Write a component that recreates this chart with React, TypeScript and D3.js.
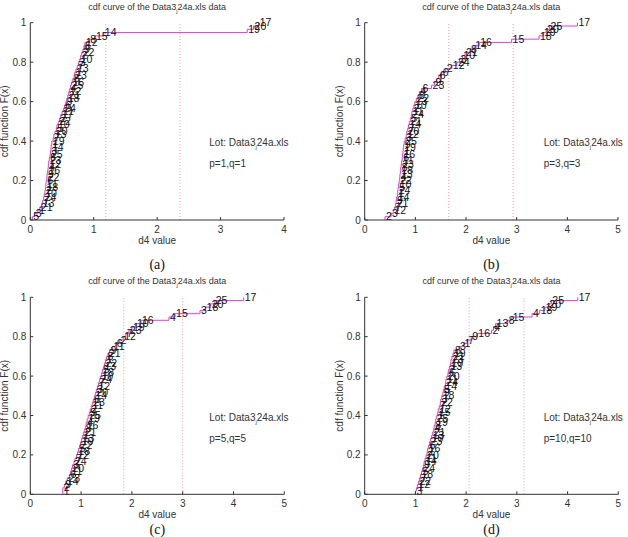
import React from "react";
import * as d3 from "d3";

// sorted d4 values per lot run, with the wafer number of each die
const aValues = [
  0.03, 0.07, 0.12, 0.15, 0.18, 0.195, 0.21, 0.22, 0.23, 0.24,
  0.245, 0.25, 0.26, 0.265, 0.27, 0.28, 0.285, 0.29, 0.3, 0.31,
  0.32, 0.325, 0.33, 0.34, 0.36, 0.37, 0.39, 0.41, 0.42, 0.44,
  0.46, 0.48, 0.5, 0.52, 0.54, 0.56, 0.575, 0.59, 0.605, 0.62,
  0.635, 0.65, 0.67, 0.69, 0.7, 0.72, 0.74, 0.76, 0.78, 0.79,
  0.81, 0.83, 0.845, 0.86, 0.93, 1.02, 1.16, 3.42, 3.52, 3.6,
];
const aLabels = [
  5, 3, 1, 21, 13, 7, 24, 10, 2, 18,
  11, 6, 22, 9, 16, 4, 12, 23, 8, 25,
  3, 14, 1, 19, 7, 13, 20, 5, 10, 22,
  2, 17, 11, 24, 6, 9, 18, 21, 12, 4,
  25, 16, 8, 23, 1, 13, 7, 3, 10, 2,
  22, 9, 6, 12, 8, 15, 14, 19, 20, 17,
];

const bValues = [
  0.4, 0.52, 0.565, 0.59, 0.61, 0.62, 0.63, 0.645, 0.65, 0.66,
  0.67, 0.68, 0.69, 0.695, 0.705, 0.71, 0.72, 0.73, 0.74, 0.745,
  0.755, 0.76, 0.77, 0.78, 0.8, 0.82, 0.83, 0.85, 0.865, 0.88,
  0.9, 0.92, 0.93, 0.95, 0.97, 0.99, 1.02, 1.05, 1.08, 1.12,
  1.32, 1.38, 1.42, 1.46, 1.52, 1.6, 1.72, 1.82, 1.87, 1.93,
  1.98, 2.08, 2.16, 2.26, 2.9, 3.44, 3.52, 3.58, 3.65, 4.2,
];
const bLabels = [
  2, 3, 12, 7, 21, 9, 14, 1, 24, 5,
  10, 22, 4, 13, 18, 8, 23, 11, 6, 16,
  1, 19, 9, 25, 3, 12, 20, 7, 14, 21,
  5, 24, 11, 2, 10, 13, 22, 8, 4, 6,
  23, 9, 1, 6, 6, 2, 12, 24, 3, 10,
  21, 8, 14, 16, 15, 18, 19, 20, 25, 17,
];

const cValues = [
  0.64, 0.64, 0.67, 0.7, 0.73, 0.77, 0.79, 0.81, 0.83, 0.86,
  0.88, 0.91, 0.93, 0.95, 0.97, 0.99, 1.01, 1.03, 1.05, 1.07,
  1.09, 1.1, 1.12, 1.14, 1.16, 1.18, 1.2, 1.22, 1.24, 1.26,
  1.28, 1.3, 1.32, 1.34, 1.36, 1.38, 1.4, 1.42, 1.44, 1.46,
  1.48, 1.5, 1.53, 1.56, 1.62, 1.68, 1.76, 1.83, 1.88, 1.94,
  2.0, 2.08, 2.18, 2.73, 2.85, 3.34, 3.45, 3.55, 3.63, 4.2,
];
const cLabels = [
  1, 2, 9, 14, 23, 6, 11, 20, 3, 24,
  7, 12, 18, 5, 22, 10, 13, 1, 21, 8,
  16, 4, 19, 25, 9, 2, 11, 23, 6, 14,
  20, 3, 12, 7, 24, 10, 18, 5, 13, 22,
  1, 8, 21, 9, 11, 6, 2, 12, 7, 23,
  19, 10, 16, 4, 15, 3, 18, 20, 25, 17,
];

const dValues = [
  1.0, 1.02, 1.04, 1.06, 1.08, 1.1, 1.12, 1.14, 1.155, 1.17,
  1.19, 1.21, 1.23, 1.24, 1.26, 1.28, 1.3, 1.32, 1.34, 1.36,
  1.37, 1.39, 1.4, 1.42, 1.44, 1.45, 1.47, 1.49, 1.5, 1.52,
  1.54, 1.55, 1.57, 1.59, 1.6, 1.62, 1.64, 1.65, 1.67, 1.69,
  1.7, 1.72, 1.74, 1.76, 1.86, 1.95, 2.02, 2.1, 2.22, 2.5,
  2.54, 2.58, 2.82, 2.9, 3.3, 3.45, 3.55, 3.62, 3.68, 4.2,
];
const dLabels = [
  3, 1, 12, 22, 7, 18, 5, 24, 9, 14,
  11, 20, 2, 16, 6, 23, 10, 13, 21, 4,
  8, 19, 25, 1, 15, 12, 7, 22, 3, 18,
  9, 5, 14, 24, 11, 20, 6, 2, 13, 10,
  23, 21, 19, 8, 3, 1, 7, 9, 16, 2,
  4, 13, 8, 15, 4, 18, 19, 20, 25, 17,
];

// cut positions (dotted verticals)
const aCuts = [1.19, 2.36];
const bCuts = [1.66, 2.93];
const cCuts = [1.84, 3.0];
const dCuts = [2.06, 3.14];

const yTicks = [0, 0.2, 0.4, 0.6, 0.8, 1];

const SANS = "'Liberation Sans', Arial, Helvetica, sans-serif";
const MAGENTA = "#e03ee6";

type Box = { left: number; right: number; top: number; bottom: number };

function Sub({ pre, post }: { pre: string; post: string }) {
  return (
    <>
      {pre}
      <tspan fontSize={6} dy={3}>j</tspan>
      <tspan dy={-3}>{post}</tspan>
    </>
  );
}

function CdfPanel(props: {
  values: number[];
  labels: number[];
  xMax: number;
  cuts: number[];
  pq: string;
  caption: string;
  captionY: number;
  box: Box;
}) {
  const { values, labels, xMax, cuts, pq, caption, captionY, box } = props;
  const x = d3.scaleLinear().domain([0, xMax]).range([box.left, box.right]);
  const y = d3.scaleLinear().domain([0, 1]).range([box.bottom, box.top]);
  const n = values.length;
  const pts: [number, number][] = [[values[0], 0], ...values.map((v, i) => [v, (i + 1) / n] as [number, number])];
  const stairs = d3
    .line<[number, number]>()
    .x((d) => x(d[0]))
    .y((d) => y(d[1]))
    .curve(d3.curveStepAfter);
  const xTicks = d3.range(0, xMax + 1);
  const cx = (box.left + box.right) / 2;
  const cy = (box.top + box.bottom) / 2;

  return (
    <g fontFamily={SANS}>
      <text x={cx} y={box.top - 13} textAnchor="middle" fontSize={9} fill="#333">
        <Sub pre="cdf curve of the Data3" post="24a.xls data" />
      </text>

      {cuts.map((c) => (
        <line key={c} x1={x(c)} x2={x(c)} y1={y(0)} y2={y(1)} stroke="#f07a96" strokeWidth={0.8} strokeDasharray="1,2" />
      ))}

      <path d={stairs(pts) ?? ""} fill="none" stroke={MAGENTA} strokeWidth={1} />

      {values.map((v, i) => (
        <text key={i} x={x(v) + 1} y={y((i + 1) / n)} dy="0.35em" fontSize={10.5} fill="#111">
          {labels[i]}
        </text>
      ))}

      {/* axes */}
      <line x1={box.left} x2={box.right} y1={box.bottom} y2={box.bottom} stroke="#333" strokeWidth={1} />
      <line x1={box.left} x2={box.left} y1={box.top} y2={box.bottom} stroke="#333" strokeWidth={1} />
      {xTicks.map((t) => (
        <g key={t}>
          <line x1={x(t)} x2={x(t)} y1={box.bottom} y2={box.bottom - 3} stroke="#333" />
          <text x={x(t)} y={box.bottom + 13} textAnchor="middle" fontSize={10} fill="#333">
            {t}
          </text>
        </g>
      ))}
      {yTicks.map((t) => (
        <g key={t}>
          <line x1={box.left} x2={box.left + 3} y1={y(t)} y2={y(t)} stroke="#333" />
          <text x={box.left - 4} y={y(t)} dy="0.35em" textAnchor="end" fontSize={10} fill="#333">
            {d3.format("~g")(t)}
          </text>
        </g>
      ))}

      <text x={cx} y={box.bottom + 24} textAnchor="middle" fontSize={10} fill="#333">
        d4 value
      </text>
      <text
        transform={`translate(${box.left - 22},${cy}) rotate(-90)`}
        textAnchor="middle"
        fontSize={10}
        fill="#333"
      >
        cdf function F(x)
      </text>

      <text x={box.left + 179} y={box.top + 120} dy="0.35em" fontSize={10} fill="#333">
        <Sub pre="Lot: Data3" post="24a.xls" />
      </text>
      <text x={box.left + 179} y={box.top + 141} dy="0.35em" fontSize={10} fill="#333">
        {pq}
      </text>

      <text x={cx} y={captionY} textAnchor="middle" fontSize={14} fontFamily="'Liberation Serif', 'Times New Roman', serif" fill="#111">
        {caption}
      </text>
    </g>
  );
}

export default function App() {
  const top1: Box = { left: 30.3, right: 284, top: 22.7, bottom: 220 };
  const top2: Box = { left: 364.7, right: 618, top: 22.7, bottom: 220 };
  const bot1: Box = { left: 30.3, right: 284.3, top: 297.3, bottom: 494.3 };
  const bot2: Box = { left: 364.7, right: 618.3, top: 297.3, bottom: 494.3 };
  return (
    <svg
      width={628}
      height={537}
      style={{ position: "absolute", left: 0, top: 0, background: "#fff" }}
    >
      <CdfPanel values={aValues} labels={aLabels} xMax={4} cuts={aCuts} pq="p=1,q=1" caption="(a)" captionY={269} box={top1} />
      <CdfPanel values={bValues} labels={bLabels} xMax={5} cuts={bCuts} pq="p=3,q=3" caption="(b)" captionY={269} box={top2} />
      <CdfPanel values={cValues} labels={cLabels} xMax={5} cuts={cCuts} pq="p=5,q=5" caption="(c)" captionY={534} box={bot1} />
      <CdfPanel values={dValues} labels={dLabels} xMax={5} cuts={dCuts} pq="p=10,q=10" caption="(d)" captionY={534} box={bot2} />
    </svg>
  );
}
